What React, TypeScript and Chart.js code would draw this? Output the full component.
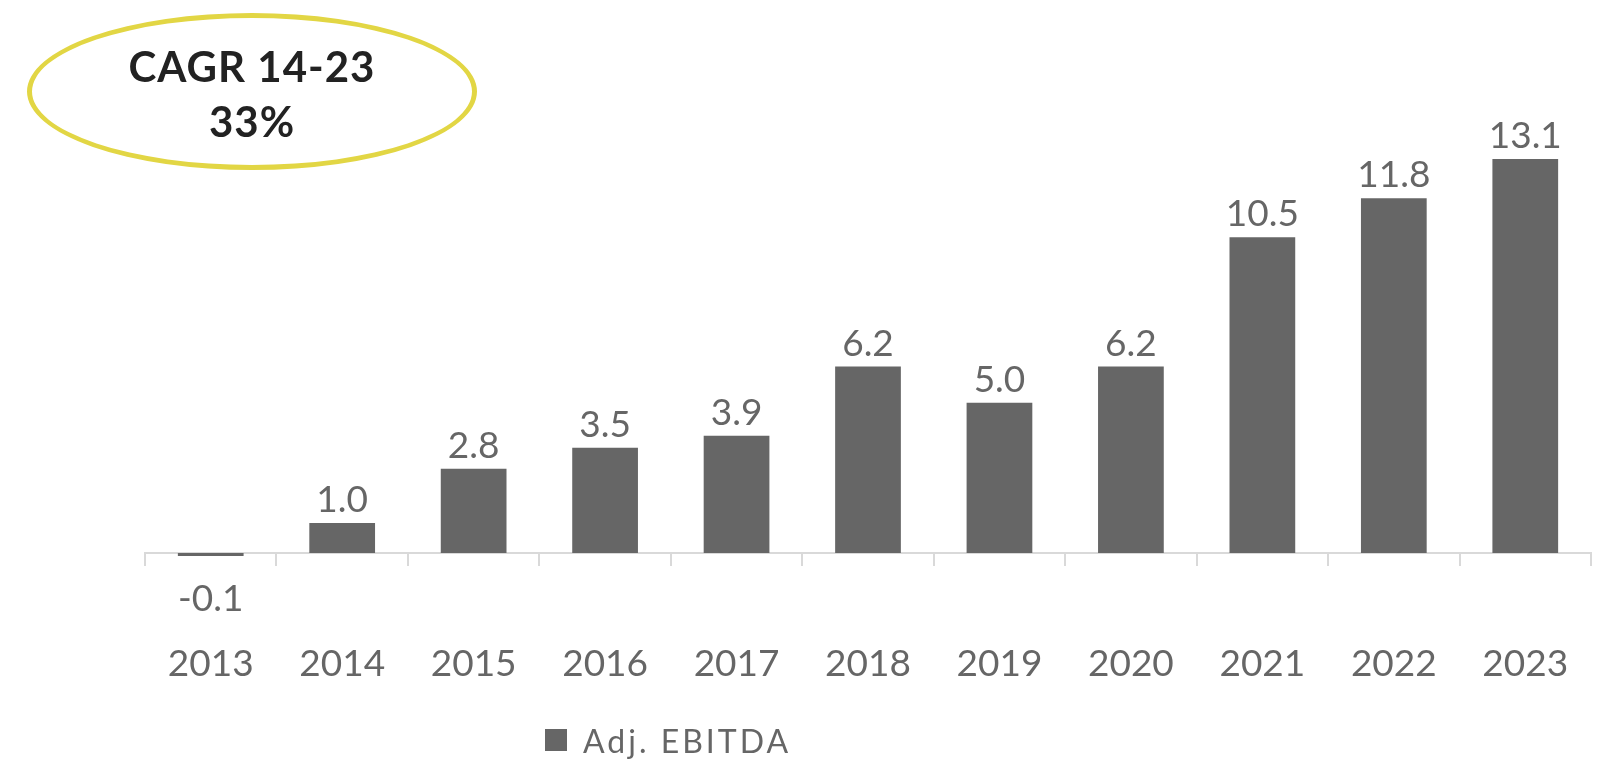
import React, { useEffect, useRef } from "react";
import { Chart, registerables } from "chart.js";

Chart.register(...registerables);

const years = ["2013", "2014", "2015", "2016", "2017", "2018", "2019", "2020", "2021", "2022", "2023"];
const adjEbitda = [-0.1, 1.0, 2.8, 3.5, 3.9, 6.2, 5.0, 6.2, 10.5, 11.8, 13.1];
const seriesName = "Adj. EBITDA";
const cagrTitle = "CAGR 14-23";
const cagrValue = "33%";

const FONT = "Lato, 'Noto Sans', sans-serif";
const BAR = "#666666";
const TEXT = "#666666";

const valueLabels = {
  id: "valueLabels",
  afterDatasetsDraw(chart: any) {
    const ctx = chart.ctx;
    const meta = chart.getDatasetMeta(0);
    const data = chart.data.datasets[0].data as number[];
    ctx.save();
    ctx.font = `37px ${FONT}`;
    ctx.fillStyle = TEXT;
    ctx.textAlign = "center";
    ctx.textBaseline = "alphabetic";
    meta.data.forEach((el: any, i: number) => {
      const v = data[i];
      const txt = v.toFixed(1);
      if (v >= 0) ctx.fillText(txt, el.x, el.y - 11);
      else ctx.fillText(txt, el.x, el.y + 55);
    });
    ctx.restore();
  },
};

export default function App() {
  const ref = useRef<HTMLCanvasElement>(null);
  useEffect(() => {
    if (!ref.current) return;
    const chart = new Chart(ref.current, {
      type: "bar",
      data: {
        labels: years,
        datasets: [
          {
            label: seriesName,
            data: adjEbitda,
            backgroundColor: BAR,
            barPercentage: 0.5,
            categoryPercentage: 1,
            clip: false as any,
          },
        ],
      },
      options: {
        animation: false,
        responsive: false,
        devicePixelRatio: 1,
        layout: { padding: { left: 145, right: 19, top: 132, bottom: 0 } },
        plugins: { legend: { display: false }, tooltip: { enabled: false } },
        scales: {
          x: {
            offset: true,
            afterFit: (scale: any) => {
              scale.height = 206;
              scale.paddingLeft = 0;
              scale.paddingRight = 0;
            },
            grid: {
              offset: true,
              drawOnChartArea: false,
              drawTicks: true,
              tickLength: 13,
              color: "#d9d9d9",
              lineWidth: 2,
            },
            border: { display: true, color: "#d9d9d9", width: 2 },
            ticks: {
              color: TEXT,
              font: { family: FONT, size: 37 },
              padding: 76,
              maxRotation: 0,
              autoSkip: false,
            },
          },
          y: {
            display: false,
            min: 0,
            max: 14,
          },
        },
      },
      plugins: [valueLabels],
    });
    return () => chart.destroy();
  }, []);

  return (
    <div style={{ position: "absolute", left: 0, top: 0, width: 1610, height: 759, background: "#fff", overflow: "hidden" }}>
      <canvas ref={ref} width={1610} height={759} style={{ position: "absolute", left: 0, top: 0, width: 1610, height: 759 }} />
      <div
        style={{
          position: "absolute",
          left: 27,
          top: 13,
          width: 450,
          height: 157,
          boxSizing: "border-box",
          border: "5px solid #E2D644",
          borderRadius: "50%",
        }}
      />
      <div
        style={{
          position: "absolute",
          left: 52,
          top: 39,
          width: 400,
          textAlign: "center",
          fontFamily: FONT,
          fontWeight: 700,
          fontSize: 42,
          lineHeight: "55px",
          color: "#222222",
          letterSpacing: 1,
        }}
      >
        <div>{cagrTitle}</div>
        <div>{cagrValue}</div>
      </div>
      <div
        style={{
          position: "absolute",
          left: 545,
          top: 718,
          height: 44,
          display: "flex",
          alignItems: "center",
          fontFamily: FONT,
          fontSize: 32,
          color: TEXT,
          letterSpacing: 3,
          whiteSpace: "nowrap",
        }}
      >
        <span style={{ display: "inline-block", width: 22, height: 22, background: BAR, marginRight: 16 }} />
        <span>{seriesName}</span>
      </div>
    </div>
  );
}
